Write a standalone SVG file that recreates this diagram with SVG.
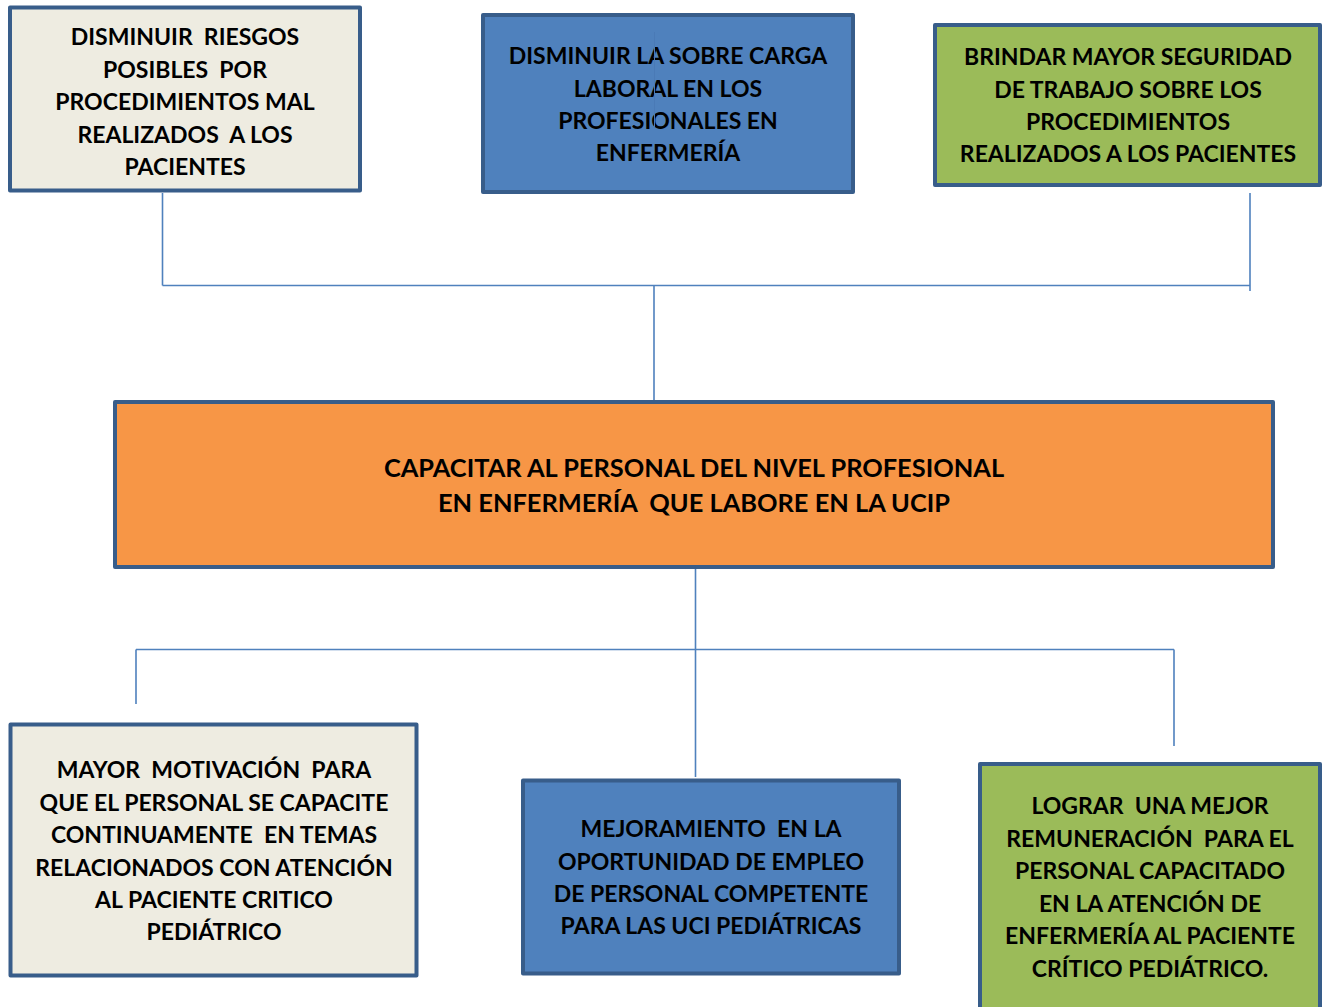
<svg xmlns="http://www.w3.org/2000/svg" width="1322" height="1007" viewBox="0 0 1322 1007">
<style>
.box{stroke:#385d8a;stroke-width:4;stroke-linejoin:round}
.beige{fill:#eeece1}
.blue{fill:#4f81bd}
.green{fill:#9bbb59}
.orange{fill:#f79646}
.t{font-family:Lato,"Open Sans","Liberation Sans",sans-serif;font-weight:bold;font-size:23px;fill:#000;text-anchor:middle;white-space:pre}
.big{font-size:25.4px}
.c{fill:none;stroke:#4f81bd;stroke-width:1.6}
</style>
<rect width="1322" height="1007" fill="#fff"/>
<g id="n1">
<rect class="box beige" x="10" y="7.5" width="350" height="183"/>
<text class="t" x="185" xml:space="preserve"><tspan x="185" y="45">DISMINUIR  RIESGOS</tspan><tspan x="185" y="77.5">POSIBLES  POR</tspan><tspan x="185" y="110">PROCEDIMIENTOS MAL</tspan><tspan x="185" y="142.5">REALIZADOS  A LOS</tspan><tspan x="185" y="175">PACIENTES</tspan></text>
</g>
<g id="n2">
<rect class="box blue" x="483" y="15" width="370" height="177"/>
<text class="t" xml:space="preserve"><tspan x="668" y="64">DISMINUIR LA SOBRE CARGA</tspan><tspan x="668" y="96.5">LABORAL EN LOS</tspan><tspan x="668" y="129">PROFESIONALES EN</tspan><tspan x="668" y="161">ENFERMERÍA</tspan></text>
</g>
<g id="n3">
<rect class="box green" x="935" y="25" width="385" height="160"/>
<text class="t" xml:space="preserve"><tspan x="1128" y="65">BRINDAR MAYOR SEGURIDAD</tspan><tspan x="1128" y="97.5">DE TRABAJO SOBRE LOS</tspan><tspan x="1128" y="130">PROCEDIMIENTOS</tspan><tspan x="1128" y="162">REALIZADOS A LOS PACIENTES</tspan></text>
</g>
<g id="n4">
<rect class="box orange" x="115" y="402" width="1158" height="165"/>
<text class="t big" xml:space="preserve"><tspan x="694" y="477">CAPACITAR AL PERSONAL DEL NIVEL PROFESIONAL</tspan><tspan x="694" y="512">EN ENFERMERÍA  QUE LABORE EN LA UCIP</tspan></text>
</g>
<g id="n5">
<rect class="box beige" x="10.5" y="724.5" width="406" height="251"/>
<text class="t" xml:space="preserve"><tspan x="214" y="778">MAYOR  MOTIVACIÓN  PARA</tspan><tspan x="214" y="810.5">QUE EL PERSONAL SE CAPACITE</tspan><tspan x="214" y="843">CONTINUAMENTE  EN TEMAS</tspan><tspan x="214" y="875.5">RELACIONADOS CON ATENCIÓN</tspan><tspan x="214" y="908">AL PACIENTE CRITICO</tspan><tspan x="214" y="940">PEDIÁTRICO</tspan></text>
</g>
<g id="n6">
<rect class="box blue" x="523" y="780.5" width="376" height="193"/>
<text class="t" xml:space="preserve"><tspan x="711" y="837">MEJORAMIENTO  EN LA</tspan><tspan x="711" y="869.5">OPORTUNIDAD DE EMPLEO</tspan><tspan x="711" y="902">DE PERSONAL COMPETENTE</tspan><tspan x="711" y="934">PARA LAS UCI PEDIÁTRICAS</tspan></text>
</g>
<g id="n7">
<rect class="box green" x="980" y="764" width="340" height="260"/>
<text class="t" xml:space="preserve"><tspan x="1150" y="814">LOGRAR  UNA MEJOR</tspan><tspan x="1150" y="846.5">REMUNERACIÓN  PARA EL</tspan><tspan x="1150" y="879">PERSONAL CAPACITADO</tspan><tspan x="1150" y="911.5">EN LA ATENCIÓN DE</tspan><tspan x="1150" y="944">ENFERMERÍA AL PACIENTE</tspan><tspan x="1150" y="977">CRÍTICO PEDIÁTRICO.</tspan></text>
</g>
<g id="connectors">
<path class="c" d="M162.5 193V285.5M162.5 285.5H1250M1250 193V291M654 285.5V400"/>
<path class="c" d="M695.5 569V777M136 649.5H1174M136 649.5V704M1174 649.5V746"/>
<path d="M654.5 32V128" stroke="#4a7ab6" stroke-width="1" fill="none"/>
</g>
</svg>
